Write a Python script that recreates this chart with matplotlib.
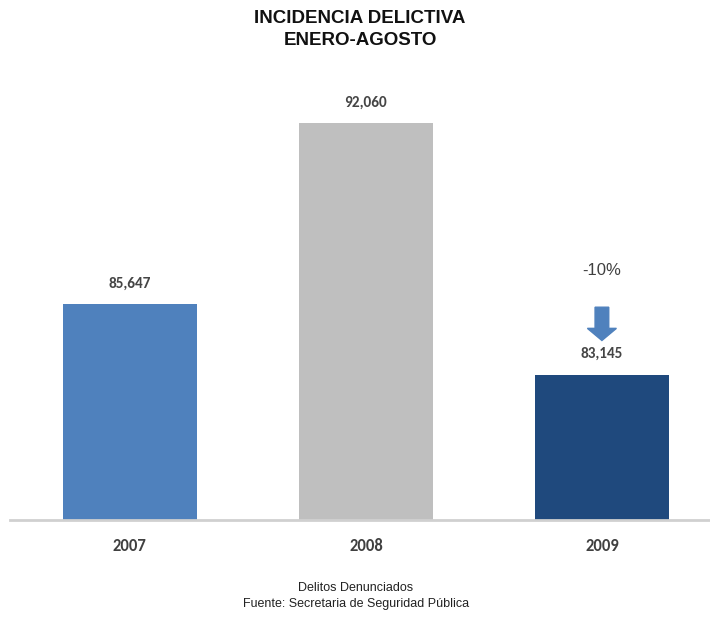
import matplotlib
matplotlib.use('Agg')
import matplotlib.pyplot as plt

# datos
years = ['2007', '2008', '2009']
delitos = [85647, 92060, 83145]
colores = ['#4F81BD', '#BFBFBF', '#1F497D']
cambio = '-10%'

plt.rcParams['font.family'] = ['Liberation Sans', 'DejaVu Sans']
calibri = ['Carlito', 'Liberation Sans', 'DejaVu Sans']

fig = plt.figure(figsize=(7.10, 6.18), dpi=100)
ax = fig.add_axes([10 / 710, 98 / 618, 700 / 710, 460 / 618])

x = range(len(years))
ax.bar(x, delitos, width=0.57, color=colores, zorder=2)

ax.set_xlim(-0.508, 2.458)
ax.set_ylim(78000, 94310)

for i, v in enumerate(delitos):
    ax.annotate(f'{v:,}', (i, v), xytext=(0, 10), textcoords='offset points',
                ha='center', va='bottom', fontsize=11, fontweight='bold',
                color='#454545', family=calibri)

# flecha y porcentaje sobre 2009
v = delitos[2]
ax.arrow(2, v + 2400, 0, -1180, width=0.058, head_width=0.123, head_length=430,
         length_includes_head=True, color='#4F81BD', zorder=3)
ax.annotate(cambio, (2, v), xytext=(0, 70), textcoords='offset points',
            ha='center', va='bottom', fontsize=12, color='#404040')

ax.set_xticks(list(x))
ax.set_xticklabels(years, fontsize=12, fontweight='bold', color='#404040', family=calibri)
ax.tick_params(axis='x', length=0, pad=13)
ax.set_yticks([])
for s in ['top', 'right', 'left']:
    ax.spines[s].set_visible(False)
ax.spines['bottom'].set_color('#D0D0D0')
ax.spines['bottom'].set_linewidth(2)

fig.text(360 / 710, 1 - 10 / 618, 'INCIDENCIA DELICTIVA\nENERO-AGOSTO', ha='center', va='top',
         fontsize=13.5, fontweight='bold', color='#111111', linespacing=1.4)
fig.text(356 / 710, 1 - 582 / 618, 'Delitos Denunciados\nFuente: Secretaria de Seguridad Pública',
         ha='center', va='top', fontsize=9, color='#222222', linespacing=1.4)

fig.savefig('out.png', dpi=100)
